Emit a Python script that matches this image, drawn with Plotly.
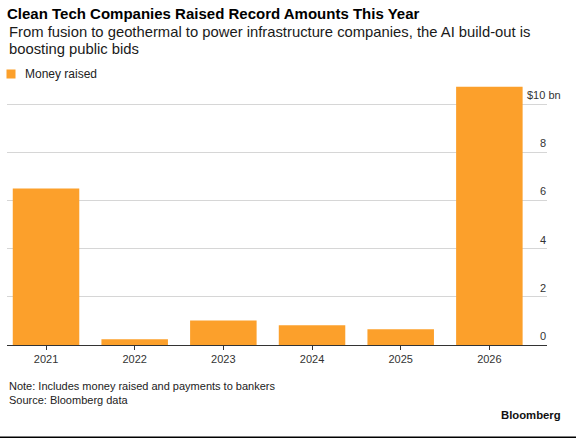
import plotly.graph_objects as go

# ---- data ----
years = ["2021", "2022", "2023", "2024", "2025", "2026"]
money_raised_bn = [6.5, 0.24, 1.02, 0.82, 0.65, 10.72]
y_tick_vals = [0, 2, 4, 6, 8, 10]
y_tick_text = ["0", "2", "4", "6", "8", "$10 bn"]
series_name = "Money raised"

title_text = "Clean Tech Companies Raised Record Amounts This Year"
subtitle_lines = [
    "From fusion to geothermal to power infrastructure companies, the AI build-out is",
    "boosting public bids",
]
note_text = "Note: Includes money raised and payments to bankers"
source_text = "Source: Bloomberg data"
brand_text = "Bloomberg"

# ---- layout geometry (pixels) ----
W, H = 576, 438
plot_left, plot_right = 7, 547
plot_top, plot_bottom = 86, 345

ORANGE = "#FCA02B"
FONT = "Liberation Sans, Arial, sans-serif"


def py2paper(py):
    return (plot_bottom - py) / (plot_bottom - plot_top)


def px2paper(px):
    return (px - plot_left) / (plot_right - plot_left)


fig = go.Figure()
fig.add_trace(go.Bar(
    x=years, y=money_raised_bn, marker=dict(color=ORANGE, line=dict(width=0)),
    showlegend=False, name=series_name,
))
# legend swatch (small square); its label is drawn as an annotation for tighter spacing
fig.add_trace(go.Scatter(
    x=[None], y=[None], mode="markers", name=" ",
    marker=dict(symbol="square", size=9, color=ORANGE),
    showlegend=True, hoverinfo="skip",
))

annotations = []
annotations.append(dict(
    text=series_name, xref="paper", yref="paper", x=px2paper(22.5), y=py2paper(74),
    xanchor="left", yanchor="middle", showarrow=False,
    font=dict(size=12, color="#222222", family=FONT),
))
for line_text, py in zip(subtitle_lines, [32.3, 49.3]):
    annotations.append(dict(
        text=line_text, xref="paper", yref="paper", x=0, y=py2paper(py),
        xanchor="left", yanchor="middle", showarrow=False,
        font=dict(size=14.8, color="#1a1a1a", family=FONT),
    ))
for t, py in [(note_text, 386), (source_text, 400)]:
    annotations.append(dict(
        text=t, xref="paper", yref="paper", x=0, y=py2paper(py),
        xanchor="left", yanchor="middle", showarrow=False,
        font=dict(size=11, color="#222222", family=FONT),
    ))
annotations.append(dict(
    text="<b>" + brand_text + "</b>", xref="paper", yref="paper",
    x=px2paper(563), y=py2paper(415),
    xanchor="right", yanchor="middle", showarrow=False,
    font=dict(size=11.3, color="#111111", family=FONT),
))
# y tick labels sitting just above gridlines
for v, t in zip(y_tick_vals, y_tick_text):
    shift = 1 + (15 if t.endswith(" bn") else 0)
    annotations.append(dict(
        text=t, xref="paper", yref="y", x=1, y=v, xanchor="right",
        yanchor="middle", yshift=9, xshift=shift, showarrow=False,
        font=dict(size=11, color="#333333", family=FONT),
    ))

fig.update_layout(
    width=W, height=H,
    margin=dict(l=plot_left, r=W - plot_right, t=plot_top, b=H - plot_bottom,
                pad=0, autoexpand=False),
    paper_bgcolor="white", plot_bgcolor="white",
    font=dict(family=FONT, color="#333333"),
    title=dict(
        text="<b>" + title_text + "</b>", xref="container", yref="container",
        x=plot_left / W, y=1 - 14 / H, xanchor="left", yanchor="middle",
        font=dict(size=15, color="#000000", family=FONT),
    ),
    bargap=0.25,
    showlegend=True,
    legend=dict(
        orientation="h", x=px2paper(-9), y=py2paper(74), xanchor="left", yanchor="middle",
        font=dict(size=12, color="#222222", family=FONT),
        itemwidth=30, bgcolor="rgba(0,0,0,0)", borderwidth=0,
    ),
    xaxis=dict(
        type="category", range=[-0.44, 5.65], showgrid=False,
        showline=True, linecolor="#333333", linewidth=1,
        ticks="outside", ticklen=4, tickcolor="#333333", tickwidth=1,
        tickfont=dict(size=11, color="#333333", family=FONT),
        fixedrange=True,
    ),
    yaxis=dict(
        range=[0, 10.75], tickvals=y_tick_vals, showticklabels=False,
        showgrid=True, gridcolor="#d6d6d6", gridwidth=1, zeroline=False,
        showline=False, ticks="", fixedrange=True,
    ),
    annotations=annotations,
    shapes=[dict(
        type="line", xref="paper", yref="paper",
        x0=px2paper(0), x1=px2paper(W), y0=py2paper(437.2), y1=py2paper(437.2),
        line=dict(color="#000000", width=1.6),
    )],
)

fig.write_html(
    "out.html",
    config={"displayModeBar": False},
    post_script="document.body.style.margin='0';document.body.style.padding='0';",
)
